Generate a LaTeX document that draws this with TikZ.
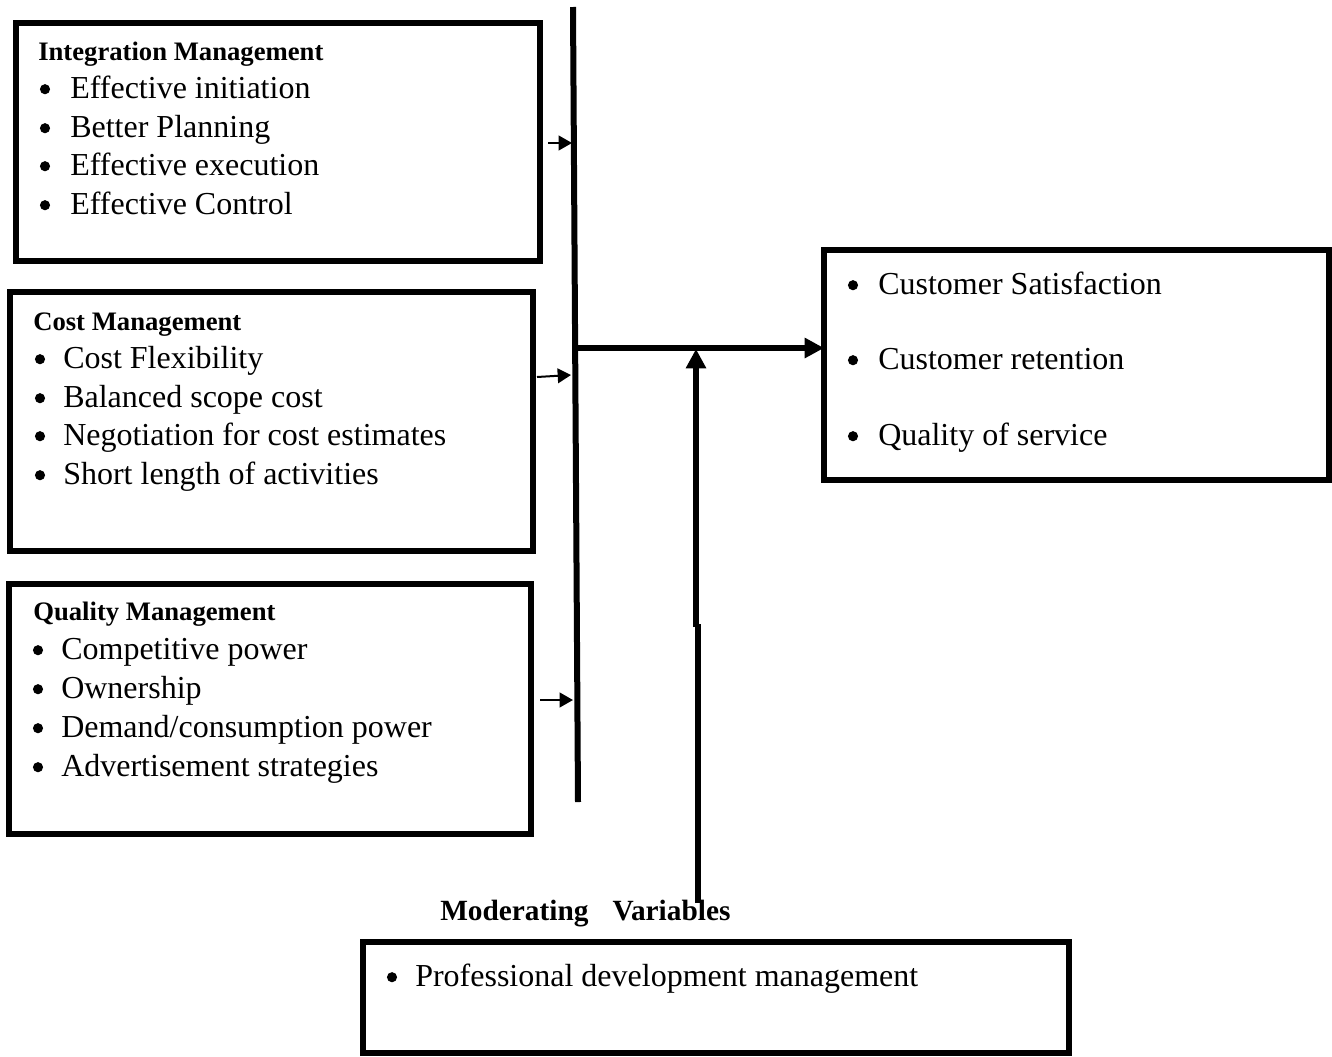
\documentclass[tikz,border=0pt]{standalone}
\usepackage{fontspec}
\setmainfont{Liberation Serif}
\usetikzlibrary{arrows.meta}
\tikzset{
  box/.style={draw, line width=4.5pt, inner sep=0pt, outer sep=0pt, anchor=north west},
  head/.style={font=\bfseries\fontsize{20}{24}\selectfont, anchor=base west, inner sep=0pt},
  item/.style={font=\fontsize{24}{28}\selectfont, anchor=base west, inner sep=0pt},
  dot/.style={circle, fill=black, inner sep=0pt, minimum size=7.6pt, yshift=6.6pt},
  modlabel/.style={font=\bfseries\fontsize{22}{26}\selectfont, anchor=base west, inner sep=0pt},
  mainline/.style={line width=4.5pt},
  bigarrow/.style={line width=4.5pt, -{Triangle[length=14.5pt,width=14.5pt]}},
  smallarrow/.style={line width=1.5pt, -{Triangle[length=10pt,width=11pt]}}
}
\begin{document}
\begin{tikzpicture}[x=0.75pt,y=-0.75pt]
\useasboundingbox (0,0) rectangle (1332,1057);
% boxes
\node[box, minimum width=393.4pt, minimum height=178.5pt] (ib) at (15.5,22.5) {};
\node[box, minimum width=392.3pt, minimum height=194.3pt] (cb) at (10,292) {};
\node[box, minimum width=391.5pt, minimum height=187.5pt] (qb) at (9,584) {};
\node[box, minimum width=379.1pt, minimum height=172.5pt] (rb) at (824,250) {};
\node[box, minimum width=529.5pt, minimum height=83.3pt] (mb) at (363,942) {};
% integration
\node[head] (ih) at (38,60) {Integration Management};
\node[dot] (ib1) at (45,98) {};  \node[item] (it1) at (70,98) {Effective initiation};
\node[dot] (ib2) at (45,137) {}; \node[item] (it2) at (70,137) {Better Planning};
\node[dot] (ib3) at (45,175) {}; \node[item] (it3) at (70,175) {Effective execution};
\node[dot] (ib4) at (45,214) {}; \node[item] (it4) at (70,214) {Effective Control};
% cost
\node[head] (ch) at (33,330) {Cost Management};
\node[dot] (cb1) at (40,368) {}; \node[item] (ct1) at (63,368) {Cost Flexibility};
\node[dot] (cb2) at (40,407) {}; \node[item] (ct2) at (63,407) {Balanced scope cost};
\node[dot] (cb3) at (40,445) {}; \node[item] (ct3) at (63,445) {Negotiation for cost estimates};
\node[dot] (cb4) at (40,484) {}; \node[item] (ct4) at (63,484) {Short length of activities};
% quality
\node[head] (qh) at (33,620) {Quality Management};
\node[dot] (qb1) at (38,659) {}; \node[item] (qt1) at (61,659) {Competitive power};
\node[dot] (qb2) at (38,698) {}; \node[item] (qt2) at (61,698) {Ownership};
\node[dot] (qb3) at (38,737) {}; \node[item] (qt3) at (61,737) {Demand/consumption power};
\node[dot] (qb4) at (38,776) {}; \node[item] (qt4) at (61,776) {Advertisement strategies};
% outcomes
\node[dot] (rb1) at (853,294) {}; \node[item] (rt1) at (878,294) {Customer Satisfaction};
\node[dot] (rb2) at (853,369) {}; \node[item] (rt2) at (878,369) {Customer retention};
\node[dot] (rb3) at (853,445) {}; \node[item] (rt3) at (878,445) {Quality of service};
% moderating
\node[modlabel] (ml) at (440,920) {Moderating\hspace{18pt}Variables};
\node[dot] (mb1) at (392,986) {}; \node[item] (mt1) at (415,986) {Professional development management};
% connectors
\coordinate (vtop) at (573,7);
\coordinate (vbot) at (578,802);
\draw[mainline] (vtop) -- (vbot);
\coordinate (hs) at (578,348);
\draw[bigarrow] (hs) -- (rb.west |- hs);
\coordinate (a1s) at (548,143); \coordinate (a1e) at (572,143);
\coordinate (a2s) at (537,377); \coordinate (a2e) at (571,375);
\coordinate (a3s) at (540,700); \coordinate (a3e) at (573,700);
\draw[smallarrow] (a1s) -- (a1e);
\draw[smallarrow] (a2s) -- (a2e);
\draw[smallarrow] (a3s) -- (a3e);
\coordinate (ms) at (698,903); \coordinate (mj) at (698,624);
\coordinate (mj2) at (696,627); \coordinate (me) at (696,349);
\draw[mainline] (ms) -- (mj);
\draw[bigarrow] (mj2) -- (me);
\end{tikzpicture}
\end{document}
